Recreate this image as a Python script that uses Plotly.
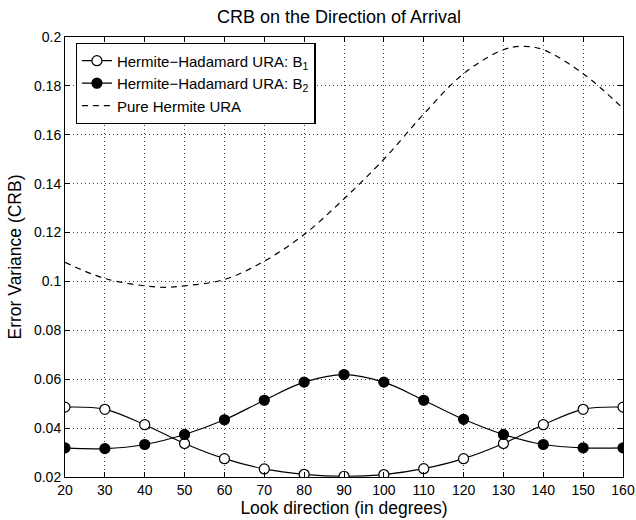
import plotly.graph_objects as go

# Look directions (degrees) where the bound was evaluated
angles = [20, 30, 40, 50, 60, 70, 80, 90, 100, 110, 120, 130, 140, 150, 160]

# CRB for the Hermite-Hadamard URA, beam sets B1 and B2
crb_b1 = [0.0486, 0.0477, 0.0414, 0.0337, 0.0275, 0.0233, 0.0211, 0.0203,
          0.0210, 0.0234, 0.0275, 0.0337, 0.0414, 0.0477, 0.0486]
crb_b2 = [0.0319, 0.0316, 0.0333, 0.0374, 0.0434, 0.0514, 0.0588, 0.0619,
          0.0588, 0.0514, 0.0436, 0.0374, 0.0333, 0.0319, 0.0319]

# CRB for the pure Hermite URA
pure_angles = [20, 30, 40, 45, 50, 60, 70, 80, 90, 100, 110, 120, 130, 135, 140, 150, 160]
crb_pure = [0.1078, 0.1012, 0.0982, 0.0976, 0.0982, 0.1008, 0.1083, 0.1192, 0.1338,
            0.1500, 0.1685, 0.1850, 0.1948, 0.1962, 0.1948, 0.1850, 0.1708]

x_ticks = list(range(20, 161, 10))
y_ticks = [0.02, 0.04, 0.06, 0.08, 0.1, 0.12, 0.14, 0.16, 0.18, 0.2]
y_tick_text = ["0.02", "0.04", "0.06", "0.08", "0.1", "0.12", "0.14", "0.16", "0.18", "0.2"]

FONT = "Liberation Sans, Arial, Helvetica, sans-serif"

fig = go.Figure()

fig.add_trace(go.Scatter(
    x=angles, y=crb_b1, mode="lines+markers",
    name="Hermite\u2212Hadamard URA: B<sub>1</sub>",
    line=dict(color="black", width=1.2, shape="spline", smoothing=1.0),
    marker=dict(symbol="circle", size=10, color="white",
                line=dict(color="black", width=1.2)),
))

fig.add_trace(go.Scatter(
    x=angles, y=crb_b2, mode="lines+markers",
    name="Hermite\u2212Hadamard URA: B<sub>2</sub>",
    line=dict(color="black", width=1.2, shape="spline", smoothing=1.0),
    marker=dict(symbol="circle", size=10, color="black",
                line=dict(color="black", width=1.2)),
))

fig.add_trace(go.Scatter(
    x=pure_angles, y=crb_pure, mode="lines",
    name="Pure Hermite URA",
    line=dict(color="black", width=1.2, dash="6px,5px", shape="spline", smoothing=1.0),
))

axis_common = dict(
    showline=True, linecolor="black", linewidth=1,
    mirror="ticks", ticks="inside", ticklen=5, tickwidth=1, tickcolor="black",
    showgrid=True, gridcolor="#444444", gridwidth=1, griddash="1px,3px",
    zeroline=False,
    tickfont=dict(family=FONT, size=14, color="black"),
)

fig.update_xaxes(
    range=[20, 160], tickvals=x_ticks, ticktext=[str(v) for v in x_ticks],
    title=dict(text="Look direction (in degrees)", standoff=4,
               font=dict(family=FONT, size=17.5, color="black")),
    **axis_common,
)
fig.update_yaxes(
    range=[0.02, 0.2], tickvals=y_ticks, ticktext=y_tick_text,
    title=dict(text="Error Variance (CRB)", standoff=7,
               font=dict(family=FONT, size=17.5, color="black")),
    **axis_common,
)

fig.update_layout(
    width=636, height=520,
    margin=dict(l=65, r=13, t=37, b=43, autoexpand=False),
    paper_bgcolor="white", plot_bgcolor="white",
    font=dict(family=FONT, color="black"),
    title=dict(text="CRB on the Direction of Arrival", x=0.533, xanchor="center",
               y=1 - 17 / 520, yanchor="middle",
               font=dict(family=FONT, size=18, color="black")),
    legend=dict(x=0.019, y=0.986, xanchor="left", yanchor="top",
                bgcolor="white", bordercolor="black", borderwidth=1.3,
                font=dict(family=FONT, size=15, color="black"),
                tracegroupgap=0),
    showlegend=True,
)

fig.write_html("out.html")
